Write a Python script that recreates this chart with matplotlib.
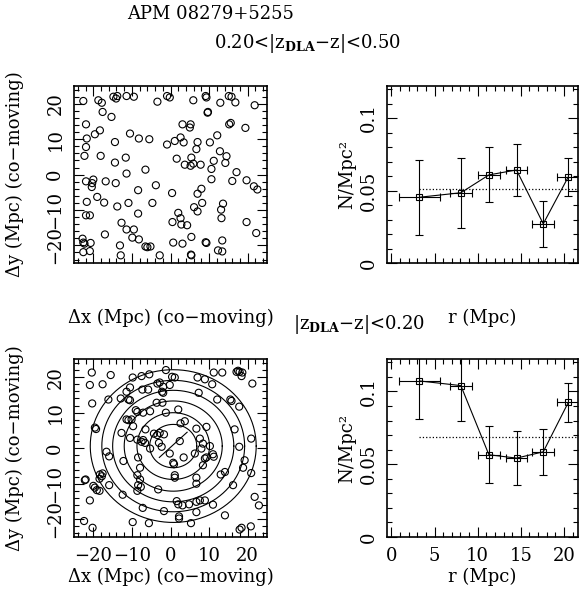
import matplotlib
matplotlib.use('Agg')
import matplotlib.pyplot as plt
import numpy as np
from matplotlib.ticker import MultipleLocator, FuncFormatter

plt.rcParams['font.family'] = 'DejaVu Serif'
plt.rcParams['mathtext.fontset'] = 'dejavuserif'

# ---------------------------------------------------
# galaxy positions, 0.20<|zDLA-z|<0.50
far_x = [-22.6, -18.7, -17.8, -14.8, -14.1, -13.8, -11.4, -9.5, -3.4, -0.9, -0.2, 5.9, 9.1, 9.3,
         12.9, 15.1, 15.8, 16.8, 21.8, -17.6, -15.3, 9.6, 9.7, -21.9, 3.1, 5.2, 5.0, 15.6, 15.2,
         19.4, -19.6, -18.3, -10.5, -21.7, -14.4, -8.2, -5.5, -0.9, 1.1, 2.6, 3.4, 7.0, 10.2,
         12.1, -21.9, 6.7, 12.8, -22.3, -18.1, -11.6, 1.6, 5.4, 14.5, -14.4, 3.7, 5.2, 5.9, 7.8,
         11.2, 14.2, -6.5, 10.6, 17.1, -21.9, -20.0, -20.3, -20.4, -16.8, -14.2, -11.4, -3.8,
         10.6, 16.0, 19.7, 21.6, 22.5, -8.4, 0.4, 8.0, 7.0, -21.7, -19.0, -17.2, -13.8, -10.9,
         -4.7, 8.2, 6.1, 7.0, 13.6, 13.1, 13.2, -21.9, -20.9, -8.4, 2.0, 2.6, -12.7, -11.4, -9.5,
         0.5, 2.8, 4.3, 19.7, -22.8, -22.6, -22.3, -20.7, -17.0, -9.9, -8.2, 0.7, 3.1, 5.4, 9.1,
         9.3, 13.4, 22.2, -22.6, -20.9, -13.1, -6.5, -6.0, -5.2, 12.3, 13.4, -12.9, -2.8, 5.3, 5.4]
far_y = [20.8, 21.0, 20.3, 22.0, 21.5, 22.2, 22.2, 22.0, 20.6, 22.2, 21.8, 21.0, 22.2, 21.8,
         20.3, 22.2, 22.0, 20.4, 19.6, 17.7, 16.3, 17.5, 17.7, 14.2, 14.2, 14.2, 13.3, 14.6, 14.2,
         13.2, 11.4, 12.5, 11.6, 10.2, 9.2, 10.2, 10.0, 8.5, 9.5, 10.5, 9.1, 9.2, 9.1,
         11.1, 7.8, 7.2, 6.6, 5.3, 5.3, 4.8, 4.5, 4.8, 5.2, 3.4, 2.8, 2.5, 3.1, 2.8,
         3.9, 3.3, 1.4, 1.6, 0.7, -1.9, -1.4, -2.4, -3.5, -1.9, -2.4, 0.3, -3.0,
         -1.3, -1.8, -1.6, -3.3, -4.2, -4.4, -5.2, -4.0, -5.4, -7.7, -6.3, -7.9, -9.0, -8.0,
         -8.0, -8.0, -9.2, -10.4, -8.2, -9.9, -12.3, -11.5, -11.5, -11.0, -10.8, -12.3, -13.6, -15.5, -15.5,
         -13.4, -14.1, -14.3, -13.4, -18.1, -19.2, -19.5, -19.3, -16.9, -17.8, -18.3, -19.2, -19.5, -17.6, -19.1,
         -19.3, -18.6, -16.5, -21.9, -21.6, -20.0, -20.3, -20.5, -20.3, -21.4, -21.7, -22.8, -22.8, -22.6, -22.8]

# galaxy positions, |zDLA-z|<0.20
near_x = [-20.4, -15.5, -20.9, -17.6, -9.8, -7.5, -5.5, -1.2, 0.4, 1.1, 7.0, 8.9, 11.2, 13.4,
          17.1, 17.5, 17.9, 18.6, 18.4, 21.2, 10.8, -10.5, -11.4, -7.3, -5.8, -3.4, -2.8, -1.9,
          -0.2, -2.2, -1.9, 7.3, -16.1, -12.9, -10.9, -10.5, -3.6, -2.1, 12.1, 15.5, 15.8, 17.8,
          -20.3, -9.0, -8.6, -7.1, -5.3, -1.2, 2.0, -11.4, -10.9, -10.1, -9.7, 3.7, 2.6, 6.7,
          9.3, 16.6, -19.6, -19.3, -12.7, -10.5, -6.5, -8.6, -7.1, -7.5, -6.6, -4.3, -3.4, -2.8,
          -1.7, -3.0, -2.3, 2.4, 7.6, 8.4, 8.0, 10.2, 20.9, 17.8, -16.6, -15.9, -12.2, -7.9,
          -8.4, -5.3, -0.2, 0.7, 0.9, 3.4, 6.3, 8.9, 9.3, 11.0, 11.2, 8.4, 19.2, 18.8, 20.9,
          -18.3, -17.8, -17.6, -18.4, -22.2, -22.0, -20.0, -19.6, -19.1, -18.4, -15.9, -8.6, -7.9,
          -8.4, -7.7, -8.6, 1.1, 1.1, 6.7, 13.0, 14.1, 16.2, 6.7, -20.9, -12.4, -3.2, 1.6, 2.0,
          3.1, 4.8, 6.7, 7.6, 8.9, 11.0, -7.2, -1.7, 2.2, 2.2, 6.7, 14.1, 21.8, 22.9, -22.4,
          -20.2, -9.8, -5.6, 5.3, 17.9, 18.4, 20.8]
near_y = [21.3, 20.6, 17.8, 18.0, 19.9, 20.3, 20.8, 22.0, 20.1, 19.9, 19.9, 19.4, 21.3, 21.3,
          21.5, 21.8, 21.5, 21.3, 20.3, 18.2, 18.0, 17.1, 15.9, 16.5, 16.5, 18.2, 18.5, 17.3,
          17.8, 15.9, 15.6, 15.6, 13.7, 14.0, 13.7, 13.5, 12.8, 12.8, 13.7, 13.7, 13.3, 11.7,
          12.6, 10.7, 10.2, 10.0, 10.4, 10.0, 10.9, 8.1, 7.9, 8.1, 6.2, 7.6, 7.0, 5.5,
          6.0, 5.3, 5.8, 5.4, 4.3, 2.9, 5.3, 2.4, 2.3, 1.8, 1.5, 4.1, 3.7, 4.3,
          3.9, 1.5, 0.4, 2.0, 2.7, 1.3, -0.1, 0.6, 2.7, 0.4, -1.0, -2.3, -3.6, -5.5,
          -2.6, -0.1, -1.5, -4.1, -4.5, -2.6, -1.5, -2.9, -2.6, -1.7, -2.4, -4.8, -3.4, -5.5, -7.0,
          -7.4, -7.9, -7.1, -8.6, -9.0, -8.8, -10.6, -11.1, -11.8, -12.0, -10.4, -7.6, -8.8,
          -10.4, -10.9, -12.0, -7.6, -8.3, -10.0, -7.4, -6.7, -10.4, -8.3, -14.7, -13.1, -11.6, -14.9, -15.8,
          -16.1, -15.8, -15.1, -14.7, -14.7, -15.9, -16.8, -17.7, -19.2, -19.8, -18.0, -18.9, -13.7, -16.1, -20.5,
          -22.4, -20.8, -21.1, -21.1, -22.9, -22.4, -22.0]

# annuli around the DLA
ring_center = (0.7, 0.6)
ring_radii = [6.1, 9.4, 12.7, 15.7, 18.5, 21.5]
diag_x = [-2.9, 4.3]
diag_y = [-2.6, 4.5]

# surface density per annulus
r_mid = [3.25, 8.05, 11.3, 14.5, 17.6, 20.5]
r_err = [2.4, 1.25, 1.3, 1.25, 1.25, 1.3]
far_n = [0.0454, 0.0485, 0.0608, 0.0642, 0.0271, 0.0594]
far_nerr = [0.026, 0.024, 0.019, 0.018, 0.0157, 0.013]
far_mean = 0.0508
near_n = [0.1072, 0.1040, 0.0565, 0.0542, 0.0585, 0.0924]
near_nerr = [0.026, 0.0245, 0.0195, 0.0185, 0.016, 0.0133]
near_mean = 0.069

# ---------------------------------------------------

fig = plt.figure(figsize=(5.83, 5.98), dpi=100)

ax_tl = fig.add_axes([0.127, 0.560, 0.331, 0.296])
ax_tr = fig.add_axes([0.664, 0.560, 0.327, 0.296])
ax_bl = fig.add_axes([0.127, 0.102, 0.331, 0.297])
ax_br = fig.add_axes([0.664, 0.102, 0.327, 0.297])

fs = 13
tfs = 13
minus = lambda v, p: ('%g' % v).replace('-', '\u2212')


def style(ax):
    ax.tick_params(which='both', direction='in', top=True, right=True, labelsize=tfs, pad=7)
    ax.tick_params(which='major', length=7, width=0.8)
    ax.tick_params(which='minor', length=3.5, width=0.8)
    for s in ax.spines.values():
        s.set_linewidth(1.2)
    ax.tick_params(axis='y', labelrotation=90)
    for lab in ax.get_yticklabels():
        lab.set_va('center')


for ax, gx, gy in [(ax_tl, far_x, far_y), (ax_bl, near_x, near_y)]:
    ax.scatter(gx, gy, s=26, facecolors='none', edgecolors='black', linewidths=0.8)
    ax.set_xlim(-25, 25)
    ax.set_ylim(-25, 25)
    ax.xaxis.set_major_locator(MultipleLocator(10))
    ax.xaxis.set_minor_locator(MultipleLocator(2))
    ax.yaxis.set_major_locator(MultipleLocator(10))
    ax.yaxis.set_minor_locator(MultipleLocator(2))
    ax.xaxis.set_major_formatter(FuncFormatter(minus))
    ax.yaxis.set_major_formatter(FuncFormatter(minus))
    style(ax)
    ax.set_ylabel('\u0394y (Mpc) (co\u2212moving)', fontsize=fs)
    ax.yaxis.set_label_coords(-0.26, 0.5)

t = np.linspace(0, 2 * np.pi, 300)
for r in ring_radii:
    ax_bl.plot(ring_center[0] + r * np.cos(t), ring_center[1] + r * np.sin(t), color='black', lw=0.8)
ax_bl.plot(diag_x, diag_y, color='black', lw=0.8)

for ax, n, nerr, m in [(ax_tr, far_n, far_nerr, far_mean), (ax_br, near_n, near_nerr, near_mean)]:
    ax.errorbar(r_mid, n, xerr=r_err, yerr=nerr, fmt='s-', color='black', mfc='none',
                ms=4.5, mew=0.8, lw=0.8, elinewidth=0.8, capsize=3)
    ax.plot([r_mid[0], 21.6], [m, m], ':', color='black', lw=0.9)
    ax.set_xlim(-0.5, 21.6)
    ax.set_ylim(0, 0.122)
    ax.xaxis.set_major_locator(MultipleLocator(5))
    ax.xaxis.set_minor_locator(MultipleLocator(1))
    ax.yaxis.set_major_locator(MultipleLocator(0.05))
    ax.yaxis.set_minor_locator(MultipleLocator(0.01))
    ax.yaxis.set_major_formatter(FuncFormatter(lambda v, p: '%g' % round(v, 3)))
    style(ax)
    ax.set_ylabel('N/Mpc\u00b2', fontsize=fs)
    ax.yaxis.set_label_coords(-0.16, 0.5)

ax_tl.tick_params(axis='x', labelbottom=False)
ax_tr.tick_params(axis='x', labelbottom=False)

ax_tl.set_xlabel('\u0394x (Mpc) (co\u2212moving)', fontsize=fs)
ax_tl.xaxis.set_label_coords(0.5, -0.26)
ax_tr.set_xlabel('r (Mpc)', fontsize=fs)
ax_tr.xaxis.set_label_coords(0.5, -0.26)
ax_bl.set_xlabel('\u0394x (Mpc) (co\u2212moving)', fontsize=fs)
ax_bl.xaxis.set_label_coords(0.5, -0.175)
ax_br.set_xlabel('r (Mpc)', fontsize=fs)
ax_br.xaxis.set_label_coords(0.5, -0.175)

fig.text(0.362, 0.977, 'APM 08279+5255', fontsize=fs, ha='center', va='center')
fig.text(0.527, 0.928, '0.20<|z$_{\\mathbf{DLA}}$\u2212z|<0.50', fontsize=fs, ha='center', va='center')
fig.text(0.616, 0.457, '|z$_{\\mathbf{DLA}}$\u2212z|<0.20', fontsize=fs, ha='center', va='center')

fig.savefig('out.png', dpi=100)
